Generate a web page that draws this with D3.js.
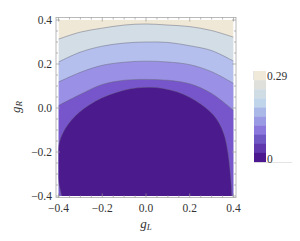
<!DOCTYPE html>
<html><head><meta charset="utf-8">
<script src="https://cdn.jsdelivr.net/npm/d3@7"></script>
<style>body{margin:0;background:#fff}svg{display:block}</style>
</head><body>
<script>
// ---- data ----
const gLSamples = [-0.4,-0.3,-0.2,-0.1,0,0.1,0.2,0.3,0.4];
const contour1 = [0.313,0.345,0.363,0.377,0.382,0.377,0.370,0.352,0.322];
const contour2 = [0.209,0.254,0.281,0.295,0.300,0.298,0.283,0.261,0.213];
const contour3 = [0.118,0.162,0.194,0.208,0.213,0.209,0.197,0.165,0.112];
const contour4 = [0.011,0.062,0.107,0.126,0.130,0.126,0.110,0.066,-0.011];
const innerGL = [-0.38,-0.384,-0.398,-0.407,-0.407,-0.398,-0.379,-0.357,-0.325,-0.283,-0.233,-0.174,-0.105,-0.037,0.018,0.078,0.142,0.201,0.251,0.293,0.325,0.347,0.366,0.379,0.388,0.393,0.394];
const innerGR = [-0.45,-0.400,-0.355,-0.282,-0.214,-0.155,-0.109,-0.073,-0.036,0.000,0.032,0.059,0.082,0.093,0.095,0.091,0.075,0.050,0.018,-0.014,-0.050,-0.091,-0.145,-0.227,-0.318,-0.400,-0.45];
const regionColors = ["#f0e8d6","#d2dde6","#b4bfee","#9a90e6","#7656ca","#4b1a8c"];
const legendColors = ["#f0e8d8","#dfe0dc","#d0dce4","#c0d4ea","#aab8e8","#9a9ae4","#8a78dc","#7058c4","#5e38ac","#4c1890"];
const legendLabels = ["0.29","0"];
const xTicks = [-0.4,-0.2,0,0.2,0.4];
const yTicks = [-0.4,-0.2,0,0.2,0.4];

const W=300,H=241;
const svg=d3.select("body").append("svg").attr("width",W).attr("height",H);
const x=d3.scaleLinear().domain([-0.4,0.4]).range([58.5,233.5]);
const y=d3.scaleLinear().domain([-0.4,0.4]).range([196,20]);

svg.append("clipPath").attr("id","clip").append("rect")
  .attr("x",x(-0.4)).attr("y",y(0.4)).attr("width",x(0.4)-x(-0.4)).attr("height",y(-0.4)-y(0.4));
const g=svg.append("g").attr("clip-path","url(#clip)");

g.append("rect").attr("x",x(-0.4)).attr("y",y(0.4)).attr("width",x(0.4)-x(-0.4)).attr("height",y(-0.4)-y(0.4)).attr("fill",regionColors[0]);
const contours=[contour1,contour2,contour3,contour4];
const curve=d3.curveCatmullRom;
contours.forEach((c,i)=>{
  const pts=gLSamples.map((v,j)=>[v,c[j]]);
  const area=d3.area().x(d=>x(d[0])).y0(y(-0.6)).y1(d=>y(d[1])).curve(curve);
  g.append("path").attr("d",area(pts)).attr("fill",regionColors[i+1]);
});
const innerPts=innerGL.map((v,j)=>[v,innerGR[j]]);
const innerLine=d3.line().x(d=>x(d[0])).y(d=>y(d[1])).curve(d3.curveBasis);
g.append("path").attr("d",innerLine(innerPts)+"Z").attr("fill",regionColors[5]);
contours.forEach(c=>{
  const pts=gLSamples.map((v,j)=>[v,c[j]]);
  g.append("path").attr("d",d3.line().x(d=>x(d[0])).y(d=>y(d[1])).curve(curve)(pts))
   .attr("fill","none").attr("stroke","#6a6a7a").attr("stroke-opacity",0.7).attr("stroke-width",0.7);
});
g.append("path").attr("d",innerLine(innerPts)).attr("fill","none").attr("stroke","#6a6a7a").attr("stroke-opacity",0.6).attr("stroke-width",0.7);

// frame
const fx0=56,fx1=236,fy0=17.5,fy1=197.5;
svg.append("rect").attr("x",fx0).attr("y",fy0).attr("width",fx1-fx0).attr("height",fy1-fy0)
  .attr("fill","none").attr("stroke","#a8a8a8").attr("stroke-width",0.8);
const minor=d3.range(-0.4,0.4001,0.05);
const tk=svg.append("g").attr("stroke","#999").attr("stroke-width",0.7);
minor.forEach(v=>{
  const major=Math.abs(Math.round(v*5)-v*5)<1e-6;
  const L=major?4:2;
  tk.append("line").attr("x1",x(v)).attr("x2",x(v)).attr("y1",fy1).attr("y2",fy1-L);
  tk.append("line").attr("x1",x(v)).attr("x2",x(v)).attr("y1",fy0).attr("y2",fy0+L);
  tk.append("line").attr("y1",y(v)).attr("y2",y(v)).attr("x1",fx0).attr("x2",fx0+L);
  tk.append("line").attr("y1",y(v)).attr("y2",y(v)).attr("x1",fx1).attr("x2",fx1-L);
});
const fmt=v=>(v<0?"\u2212":"")+Math.abs(v).toFixed(1);
const font="'Liberation Serif', 'Times New Roman', serif";
svg.append("g").selectAll("text").data(xTicks).join("text")
  .attr("x",d=>x(d)).attr("y",212).attr("text-anchor","middle")
  .attr("font-family",font).attr("font-size",11.5).attr("fill","#333").text(fmt);
svg.append("g").selectAll("text").data(yTicks).join("text")
  .attr("x",52).attr("y",d=>y(d)+4).attr("text-anchor","end")
  .attr("font-family",font).attr("font-size",11.5).attr("fill","#333").text(fmt);

const xl=svg.append("text").attr("x",146).attr("y",228).attr("text-anchor","middle")
  .attr("font-family",font).attr("font-size",13).attr("fill","#333");
xl.append("tspan").attr("font-style","italic").text("g");
xl.append("tspan").attr("font-style","italic").attr("font-size",9).attr("dy",2).text("L");
const yl=svg.append("text").attr("transform","translate(20,107) rotate(-90)").attr("text-anchor","middle")
  .attr("font-family",font).attr("font-size",13).attr("fill","#333");
yl.append("tspan").attr("font-style","italic").text("g");
yl.append("tspan").attr("font-style","italic").attr("font-size",9).attr("dy",2).text("R");

// legend
const ly=d3.scaleBand().domain(d3.range(legendColors.length)).range([71,162]);
svg.append("g").selectAll("rect").data(legendColors).join("rect")
  .attr("x",254).attr("y",(d,i)=>ly(i)).attr("width",12).attr("height",ly.bandwidth()+0.3).attr("fill",d=>d);
svg.append("line").attr("x1",254).attr("x2",292).attr("y1",162.5).attr("y2",162.5).attr("stroke","#ddd").attr("stroke-width",0.8);
svg.append("line").attr("x1",253.5).attr("x2",253.5).attr("y1",71).attr("y2",80).attr("stroke","#ddd").attr("stroke-width",0.8);
svg.append("text").attr("x",267).attr("y",80).attr("font-family",font).attr("font-size",11.5).attr("fill","#333").text(legendLabels[0]);
svg.append("text").attr("x",267).attr("y",163).attr("font-family",font).attr("font-size",11.5).attr("fill","#333").text(legendLabels[1]);
</script>
</body></html>
